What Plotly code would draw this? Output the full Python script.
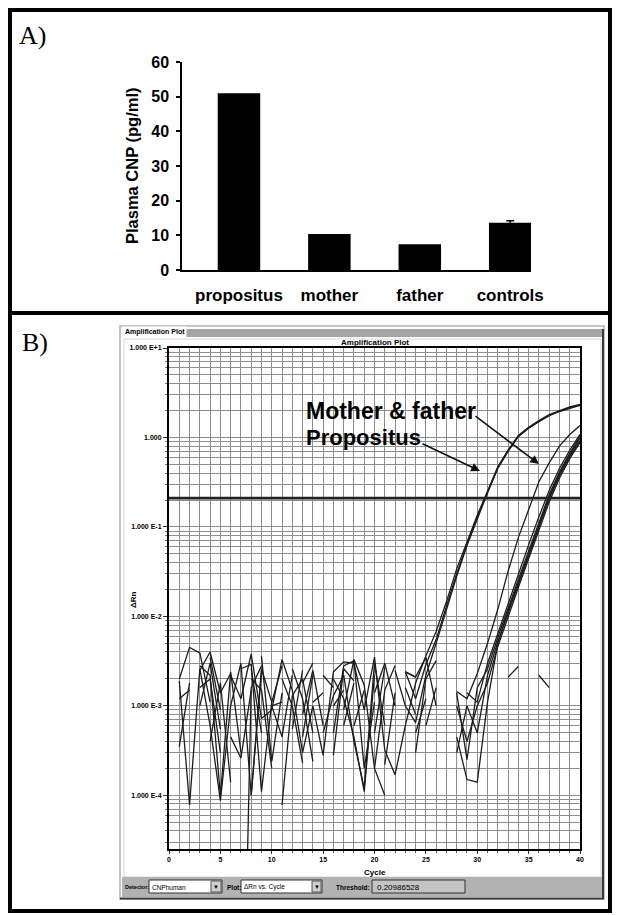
import plotly.graph_objects as go

W, H = 617, 915
def px(x): return x / W
def py(y): return 1 - y / H

# ---------------- Panel A data ----------------
categories = ["propositus", "mother", "father", "controls"]
cnp_values = [51.0, 10.4, 7.4, 13.6]
cnp_errors = [0, 0, 0, 0.6]

# ---------------- Panel B data ----------------
N = None
cycles = list(range(1, 41))
threshold = 0.20986528

propositus_1 = [2.0e-3, 4.5e-3, 3.9e-3, 1.1e-3, N, 2.2e-3, 1.2e-3, 3.8e-3, 7.2e-4, 9.0e-4,
                3.3e-3, 1.5e-3, 3.0e-4, 1.0e-3, 2.8e-4, 2.4e-3, 3.1e-3, 3.0e-3, 9.0e-4, 3.5e-3,
                3.2e-4, 1.7e-4, 6.0e-4, 1.8e-3, 3.6e-3, 6.8e-3, 1.46e-2, 3.4e-2, 6.8e-2, 1.35e-1,
                2.5e-1, 4.7e-1, 7.2e-1, 1.05, 1.3, 1.55, 1.8, 2.0, 2.2, 2.35]
propositus_2 = [1.9e-3, 7.8e-5, 2.6e-3, 6.0e-4, 8.7e-5, 1.0e-3, 3.0e-3, 1.0e-4, 2.4e-3, N,
                7.8e-5, 1.3e-3, 2.0e-3, 5.0e-4, N, 5.0e-4, 2.8e-3, 3.2e-3, 2.0e-4, 1.1e-3,
                N, N, 2.4e-3, 1.2e-3, 2.9e-3, 5.5e-3, 1.3e-2, 3.0e-2, 6.4e-2, 1.3e-1,
                2.45e-1, 4.6e-1, 7.1e-1, 1.03, 1.28, 1.52, 1.76, 1.97, 2.15, 2.3]
propositus_3 = [5.0e-4, N, 1.0e-3, 3.0e-3, 5.5e-4, N, 2.6e-3, 2.9e-3, 1.1e-4, 1.1e-3,
                2.8e-3, N, 4.5e-4, 2.2e-3, N, 2.0e-3, 1.2e-3, 4.5e-4, 1.1e-4, 2.2e-3,
                N, 2.5e-3, 1.0e-3, 6.5e-4, 2.2e-3, 5.0e-3, 1.2e-2, 2.8e-2, 6.2e-2, 1.25e-1,
                2.4e-1, 4.5e-1, 7.0e-1, 1.02, 1.27, 1.5, 1.75, 1.95, 2.13, 2.28]
parent_1 = [1.4e-3, N, 2.5e-3, 4.0e-3, 1.4e-3, 2.3e-3, N, 1.0e-4, 2.6e-3, 1.1e-3,
            N, N, 8.0e-4, 2.5e-3, 6.0e-4, N, 9.0e-4, 3.3e-3, 1.7e-3, 2.0e-4,
            1.0e-4, N, 2.4e-3, 2.1e-3, 3.5e-3, 1.0e-3, N, 1.45e-3, 1.2e-3, 2.3e-3,
            5.0e-3, 1.2e-2, 3.2e-2, 7.6e-2, 1.6e-1, 3.2e-1, 5.2e-1, 8.0e-1, 1.08, 1.36]
parent_2 = [3.5e-4, 1.8e-3, N, 4.0e-4, 1.8e-3, 1.4e-4, N, 2.0e-3, 1.5e-3, 2.0e-4,
            N, 5.5e-4, 2.5e-3, N, 5.0e-4, 1.3e-3, 2.2e-3, 4.0e-4, 1.2e-4, 3.0e-3,
            6.0e-4, N, 1.1e-3, N, 1.5e-3, N, N, 4.5e-4, 1.5e-4, 1.4e-4,
            1.1e-3, 5.0e-3, 1.15e-2, 2.4e-2, 5.0e-2, 1.05e-1, 2.15e-1, 3.9e-1, 6.4e-1, 9.8e-1]
parent_3 = [N, N, 2.8e-3, 2.2e-3, 1.0e-4, 2.4e-3, 3.0e-4, N, 3.6e-3, 2.4e-4,
            1.4e-3, N, 1.8e-3, 3.0e-3, N, 2.8e-4, 2.6e-3, 1.9e-3, N, 1.4e-3,
            3.0e-3, 1.0e-3, N, 3.0e-4, 2.0e-3, 3.2e-3, N, 1.4e-3, 2.5e-4, 1.6e-3,
            2.6e-3, 5.8e-3, 1.25e-2, 2.6e-2, 5.4e-2, 1.12e-1, 2.3e-1, 4.1e-1, 6.7e-1, 1.03]
parent_4 = [1.2e-3, 1.5e-3, N, 2.6e-3, N, 4.5e-4, 2.6e-4, 1.5e-3, N, 1.0e-3,
            4.5e-4, 2.2e-3, N, 1.1e-3, 1.4e-3, N, 6.0e-4, 1.8e-3, N, 2.0e-4,
            1.5e-3, 2.8e-3, N, 5.0e-4, 1.2e-3, N, N, 3.0e-4, 1.0e-3, 5.0e-4,
            2.2e-3, 5.2e-3, 1.1e-2, 2.3e-2, 4.8e-2, 1.0e-1, 2.05e-1, 3.75e-1, 6.1e-1, 9.2e-1]
parent_5 = [N, 6.0e-4, N, 3.5e-3, 9.0e-4, N, N, 2.6e-3, 5.0e-4, N,
            2.0e-3, 1.0e-3, 2.3e-4, N, 2.2e-3, 1.6e-3, N, 6.0e-4, 1.5e-3, N,
            2.2e-4, 1.4e-3, N, N, 6.0e-4, 1.6e-3, N, N, 1.4e-3, 1.1e-3,
            3.0e-3, 6.5e-3, 1.4e-2, 3.0e-2, 6.3e-2, 1.3e-1, 2.55e-1, 4.5e-1, 7.2e-1, 1.08]
parent_6 = [7.0e-4, N, 1.6e-3, 2.0e-3, 3.0e-4, N, 1.0e-8, 1.6e-3, 2.8e-3, N,
            N, 2.6e-3, 1.2e-3, 2.4e-4, N, 1.0e-3, 1.5e-3, N, N, 5.0e-4,
            2.7e-3, N, 1.6e-3, 8.0e-4, N, N, N, 1.0e-3, 4.0e-4, 1.0e-3,
            1.8e-3, 4.6e-3, 1.0e-2, 2.1e-2, 4.4e-2, 9.2e-2, 1.9e-1, 3.5e-1, 5.8e-1, 8.8e-1]
ntc_1 = [N] * 22 + [2.4e-3, 2.1e-3] + [N] * 8 + [2.1e-3, 2.75e-3] + [N] * 6
ntc_2 = [N] * 9 + [1.0e-3, 1.1e-3] + [N] * 24 + [2.2e-3, 1.6e-3] + [N] * 3

amp_series = [propositus_1, propositus_2, propositus_3,
              parent_1, parent_2, parent_3, parent_4, parent_5, parent_6,
              ntc_1, ntc_2]

y_tick_vals = [10, 1, 0.1, 0.01, 0.001, 0.0001]
y_tick_text = ["1.000 E+1", "1.000", "1.000 E-1", "1.000 E-2", "1.000 E-3", "1.000 E-4"]
x_tick_vals = [0, 5, 10, 15, 20, 25, 30, 35, 40]
log_minor = [k * 10 ** e for e in range(-5, 1) for k in range(2, 10)]

detector_name = "CNPhuman"
plot_name = "ΔRn vs. Cycle"

SANS = "Liberation Sans, Arial, sans-serif"
SERIF = "Liberation Serif, Times New Roman, serif"

fig = go.Figure()

# Panel A bars
fig.add_trace(go.Bar(
    x=categories, y=cnp_values, width=0.47,
    marker=dict(color="black", line=dict(width=0)),
    xaxis="x", yaxis="y", showlegend=False))
err_cats = [c for c, e in zip(categories, cnp_errors) if e > 0]
err_vals = [v for v, e in zip(cnp_values, cnp_errors) if e > 0]
err_sizes = [e for e in cnp_errors if e > 0]
fig.add_trace(go.Scatter(
    x=err_cats, y=err_vals, mode="markers", marker=dict(size=1, color="black", opacity=0),
    error_y=dict(type="data", array=err_sizes, visible=True, color="black",
                 thickness=1.5, width=4),
    xaxis="x", yaxis="y", showlegend=False, hoverinfo="skip"))

# Panel B amplification curves
for s in amp_series:
    fig.add_trace(go.Scatter(
        x=cycles, y=s, mode="lines", connectgaps=False,
        line=dict(color="#1c1c1c", width=1.3),
        xaxis="x2", yaxis="y2", showlegend=False, hoverinfo="skip"))

fig.add_trace(go.Scatter(
    x=[0, 40], y=[threshold, threshold], mode="lines",
    line=dict(color="#222222", width=2.6),
    xaxis="x2", yaxis="y2", showlegend=False, hoverinfo="skip"))

fig.update_layout(
    width=W, height=H, autosize=False,
    margin=dict(l=0, r=0, t=0, b=0, pad=0),
    paper_bgcolor="white", plot_bgcolor="white",
    xaxis=dict(domain=[px(182), px(531)], range=[-0.63, 3.23], type="category",
               automargin=False,
               showline=True, linecolor="black", linewidth=1.5, ticks="",
               showgrid=False, zeroline=False, ticklabelstandoff=9,
               tickfont=dict(family=SANS, size=17, color="black", weight=700),
               anchor="y"),
    yaxis=dict(domain=[py(270), py(62)], range=[0, 60], dtick=10,
               automargin=False,
               showline=True, linecolor="black", linewidth=1.5,
               ticks="outside", ticklen=4, tickwidth=1.5, tickcolor="black",
               showgrid=False, zeroline=False, ticklabelstandoff=4,
               tickfont=dict(family=SANS, size=16, color="black", weight=700),
               anchor="x"),
    xaxis2=dict(domain=[px(169), px(580)], range=[0, 40], tickmode="array",
                tickvals=x_tick_vals, automargin=False,
                showline=True, mirror=True, linecolor="black", linewidth=2,
                ticks="outside", ticklen=3, tickcolor="#333", tickwidth=1,
                showgrid=True, gridcolor="#8e8e8e", gridwidth=1, zeroline=False,
                minor=dict(dtick=1, tick0=0, showgrid=True, gridcolor="#8e8e8e",
                           gridwidth=1, ticks="outside", ticklen=2, tickcolor="#555"),
                tickfont=dict(family=SANS, size=7, color="black", weight=700),
                anchor="y2"),
    yaxis2=dict(domain=[py(849), py(348)], type="log", range=[-4.6, 1],
                tickmode="array", tickvals=y_tick_vals, ticktext=y_tick_text,
                automargin=False,
                showline=True, mirror=True, linecolor="black", linewidth=2,
                ticks="outside", ticklen=4, tickcolor="#333", tickwidth=1,
                showgrid=True, gridcolor="#8e8e8e", gridwidth=1, zeroline=False,
                minor=dict(tickmode="array", tickvals=log_minor, showgrid=True,
                           gridcolor="#8e8e8e", gridwidth=1, ticks="outside",
                           ticklen=2, tickcolor="#777"),
                tickfont=dict(family=SANS, size=7, color="black", weight=700),
                anchor="x2"),
)

def rect(x0, y0, x1, y1, fill=None, line=None, lw=1):
    d = dict(type="rect", xref="paper", yref="paper",
             x0=px(x0), x1=px(x1), y0=py(y1), y1=py(y0), layer="below")
    d["fillcolor"] = fill if fill else "rgba(0,0,0,0)"
    d["line"] = dict(color=line, width=lw) if line else dict(width=0)
    return d

def hline(x0, x1, y, color, lw):
    return dict(type="line", xref="paper", yref="paper", x0=px(x0), x1=px(x1),
                y0=py(y), y1=py(y), line=dict(color=color, width=lw))

def vline(x, y0, y1, color, lw):
    return dict(type="line", xref="paper", yref="paper", x0=px(x), x1=px(x),
                y0=py(y0), y1=py(y1), line=dict(color=color, width=lw))

shapes = [
    # software window
    rect(120, 326, 604, 899, fill="white", line="#c4c4c4", lw=2),
    rect(124, 339, 601, 877, line="#d6d6d6", lw=1),
    rect(158, 329, 603, 337, fill="#a4a4a4"),
    rect(122, 877, 602, 897, fill="#b2b2b2"),
    rect(149, 880, 222, 893, fill="white", line="#333", lw=1),
    rect(211, 881, 221, 892, fill="#cfcfcf", line="#555", lw=1),
    rect(241, 880, 322, 893, fill="white", line="#333", lw=1),
    rect(312, 881, 321, 892, fill="#cfcfcf", line="#555", lw=1),
    rect(372, 880, 465, 893, fill="#c4c4c4", line="#333", lw=1),
    vline(603, 329, 899, "#3a3a3a", 2),
    hline(120, 604, 898.5, "#3a3a3a", 2),
    # figure frame
    dict(type="rect", xref="paper", yref="paper", x0=px(10), x1=px(610),
         y0=py(911), y1=py(10), line=dict(color="black", width=4),
         fillcolor="rgba(0,0,0,0)"),
    hline(10, 610, 313, "black", 4),
]
fig.update_layout(shapes=shapes)

def note(text, x, y, size, xanchor="center", yanchor="middle", family=SANS,
         weight=700, angle=0, bg=None):
    d = dict(text=text, xref="paper", yref="paper", x=px(x), y=py(y),
             xanchor=xanchor, yanchor=yanchor, showarrow=False, textangle=angle,
             font=dict(family=family, size=size, color="black", weight=weight))
    if bg:
        d["bgcolor"] = bg
    return d

annotations = [
    note("A)", 32, 36, 26, family=SERIF, weight=400),
    note("B)", 35, 342, 26, family=SERIF, weight=400),
    note("Plasma CNP (pg/ml)", 132, 166, 16.5, angle=-90),
    note("Amplification Plot", 123, 332, 7, xanchor="left", bg="white"),
    note("Amplification Plot", 375, 343, 8),
    note("ΔRn", 133, 600, 8, angle=-90),
    note("Cycle", 375, 872, 8),
    note("Detector:", 123, 887, 5.5, xanchor="left"),
    note(detector_name, 150, 887, 6.5, xanchor="left", weight=400),
    note("▼", 216, 887, 6),
    note("Plot:", 225, 887, 6.5, xanchor="left"),
    note(plot_name, 242, 887, 6.5, xanchor="left", weight=400),
    note("▼", 316.5, 887, 6),
    note("Threshold:", 334, 887, 6.5, xanchor="left"),
    note(f"{threshold:.8f}", 375, 887, 8, xanchor="left", weight=400),
    note("Mother &amp; father", 304, 411, 23, xanchor="left"),
    note("Propositus", 304, 437, 22, xanchor="left"),
]
# arrows
for (tx, ty, hx, hy) in [(474, 415, 539, 464), (421, 443, 480, 471)]:
    annotations.append(dict(
        xref="paper", yref="paper", x=px(hx), y=py(hy), ax=tx - hx, ay=ty - hy,
        text="", showarrow=True, arrowhead=2, arrowsize=1.1, arrowwidth=1.6,
        arrowcolor="#111"))
fig.update_layout(annotations=annotations)

fig.write_html("out.html", config={"displayModeBar": False},
               post_script="document.body.style.margin='0';document.body.style.overflow='hidden';")
